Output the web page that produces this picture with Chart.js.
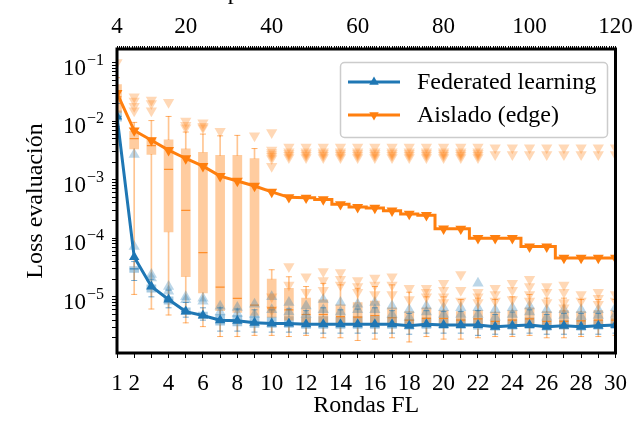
<!DOCTYPE html>
<html>
<head>
<meta charset="utf-8">
<script src="https://cdn.jsdelivr.net/npm/chart.js@4.4.1/dist/chart.umd.min.js"></script>
<style>
    html, body { margin: 0; padding: 0; background: #fff; }
    #wrap { width: 639px; height: 430px; }
</style>
</head>
<body>
<div id="wrap"><canvas id="lossChart" width="639" height="430"></canvas></div>
<script>
// rounds on the bottom axis, epochs on the top one (4 epochs per round)
const rounds = [1, 2, 3, 4, 5, 6, 7, 8, 9, 10, 11, 12, 13, 14, 15, 16, 17, 18, 19, 20, 21, 22, 23, 24, 25, 26, 27, 28, 29, 30]
const roundLabels = [1, 2, 4, 6, 8, 10, 12, 14, 16, 18, 20, 22, 24, 26, 28, 30]
const epochLabels = [4, 20, 40, 60, 80, 100, 120]
const yDecades = [1e-5, 1e-4, 1e-3, 1e-2, 1e-1]

// main curves
const flLoss = [1.2e-2, 4.8e-5, 1.5e-5, 9.0e-6, 5.6e-6, 4.8e-6, 4.0e-6, 3.9e-6, 3.6e-6, 3.5e-6,
    3.5e-6, 3.4e-6, 3.4e-6, 3.4e-6, 3.4e-6, 3.4e-6, 3.4e-6, 3.2e-6, 3.4e-6, 3.3e-6,
    3.3e-6, 3.3e-6, 3.1e-6, 3.2e-6, 3.3e-6, 3.1e-6, 3.2e-6, 3.1e-6, 3.2e-6, 3.3e-6]
const edgeLoss = [3.0e-2, 6.9e-3, 4.7e-3, 3.2e-3, 2.3e-3, 1.7e-3, 1.15e-3, 9.5e-4, 7.8e-4, 6.2e-4,
    5.0e-4, 4.9e-4, 4.6e-4, 3.8e-4, 3.4e-4, 3.3e-4, 2.95e-4, 2.6e-4, 2.47e-4, 1.46e-4,
    1.45e-4, 1.0e-4, 1.0e-4, 1.0e-4, 7.2e-5, 7.2e-5, 4.6e-5, 4.6e-5, 4.6e-5, 4.6e-5]

// edge boxplots (per round)
const edgeLo = [1.1e-2, 1.1e-5, 6.2e-6, 4.9e-6, 3.6e-6, 3.1e-6, 2.1e-6, 2.1e-6, 2.2e-6, 2.2e-6,
    2.1e-6, 2.2e-6, 2.0e-6, 2.0e-6, 1.8e-6, 1.9e-6, 2.0e-6, 1.7e-6, 2.1e-6, 1.9e-6,
    1.9e-6, 2.0e-6, 2.1e-6, 2.1e-6, 2.2e-6, 2.0e-6, 2.0e-6, 2.1e-6, 2.1e-6, 2.2e-6]
const edgeQ1 = [1.4e-2, 3.35e-3, 2.7e-3, 1.28e-4, 2.2e-5, 1.17e-5, 5.8e-6, 5.4e-6, 4.8e-6, 4.5e-6,
    4.0e-6, 3.5e-6, 3.4e-6, 3.3e-6, 3.3e-6, 3.3e-6, 3.2e-6, 3.0e-6, 3.1e-6, 3.2e-6,
    3.1e-6, 3.1e-6, 2.9e-6, 3.0e-6, 3.0e-6, 2.9e-6, 2.9e-6, 2.9e-6, 3.0e-6, 3.0e-6]
const edgeMed = [2.6e-2, 5.0e-3, 3.8e-3, 1.5e-3, 3.0e-4, 5.7e-5, 1.46e-5, 9.4e-6, 7.2e-6, 6.5e-6,
    6.0e-6, 5.0e-6, 5.0e-6, 4.6e-6, 4.5e-6, 4.8e-6, 4.4e-6, 4.0e-6, 4.3e-6, 4.3e-6,
    4.0e-6, 4.2e-6, 3.8e-6, 4.0e-6, 4.2e-6, 3.8e-6, 3.8e-6, 3.9e-6, 4.0e-6, 4.0e-6]
const edgeQ3 = [4.2e-2, 6.7e-3, 5.2e-3, 4.8e-3, 3.35e-3, 2.94e-3, 2.6e-3, 2.6e-3, 2.3e-3, 2.0e-5,
    1.4e-5, 9.5e-6, 8.9e-6, 7.3e-6, 8.0e-6, 8.5e-6, 6.5e-6, 5.6e-6, 6.5e-6, 5.8e-6,
    5.6e-6, 5.8e-6, 5.5e-6, 5.8e-6, 6.5e-6, 5.6e-6, 5.8e-6, 5.6e-6, 5.8e-6, 5.8e-6]
const edgeHi = [5.5e-2, 9.5e-3, 1.02e-2, 1.2e-2, 6.5e-3, 6.0e-3, 5.6e-3, 5.7e-3, 3.4e-3, 2.9e-5,
    2.2e-5, 1.5e-5, 1.7e-5, 1.6e-5, 1.4e-5, 1.5e-5, 1.6e-5, 1.2e-5, 1.0e-5, 1.0e-5,
    9.0e-6, 9.5e-6, 9.0e-6, 1.0e-5, 1.1e-5, 9.5e-6, 9.5e-6, 9.0e-6, 9.0e-6, 9.0e-6]

// federated boxplots (per round)
const flLo = [8.0e-3, 1.9e-5, 1.0e-5, 6.5e-6, 4.5e-6, 4.0e-6, 2.6e-6, 2.6e-6, 2.5e-6, 2.5e-6,
    2.5e-6, 2.4e-6, 2.4e-6, 2.4e-6, 2.4e-6, 2.4e-6, 2.4e-6, 2.3e-6, 2.4e-6, 2.4e-6,
    2.4e-6, 2.2e-6, 2.3e-6, 2.3e-6, 2.4e-6, 2.3e-6, 2.3e-6, 2.3e-6, 2.3e-6, 2.4e-6]
const flQ1 = [1.0e-2, 2.6e-5, 1.2e-5, 7.5e-6, 5.0e-6, 4.3e-6, 3.3e-6, 3.2e-6, 3.0e-6, 3.0e-6,
    3.0e-6, 2.9e-6, 2.9e-6, 2.9e-6, 2.9e-6, 2.9e-6, 2.9e-6, 2.8e-6, 2.9e-6, 2.9e-6,
    2.9e-6, 2.8e-6, 2.7e-6, 2.8e-6, 2.9e-6, 2.7e-6, 2.8e-6, 2.7e-6, 2.8e-6, 2.9e-6]
const flMed = [1.2e-2, 3.0e-5, 1.4e-5, 8.8e-6, 5.6e-6, 4.8e-6, 3.9e-6, 3.8e-6, 3.6e-6, 3.5e-6,
    3.5e-6, 3.4e-6, 3.4e-6, 3.4e-6, 3.4e-6, 3.4e-6, 3.4e-6, 3.2e-6, 3.4e-6, 3.3e-6,
    3.3e-6, 3.3e-6, 3.1e-6, 3.2e-6, 3.3e-6, 3.1e-6, 3.2e-6, 3.1e-6, 3.2e-6, 3.3e-6]
const flQ3 = [1.5e-2, 3.3e-5, 1.6e-5, 1.0e-5, 6.5e-6, 5.5e-6, 5.0e-6, 4.8e-6, 4.6e-6, 4.5e-6,
    4.6e-6, 4.4e-6, 4.6e-6, 4.5e-6, 4.6e-6, 4.7e-6, 4.4e-6, 4.0e-6, 4.4e-6, 4.2e-6,
    4.2e-6, 4.3e-6, 3.9e-6, 4.1e-6, 4.4e-6, 3.9e-6, 4.0e-6, 4.0e-6, 4.0e-6, 4.3e-6]
const flHi = [2.0e-2, 4.0e-5, 2.0e-5, 1.3e-5, 8.0e-6, 6.5e-6, 6.5e-6, 6.2e-6, 6.0e-6, 6.0e-6,
    6.2e-6, 5.8e-6, 6.5e-6, 6.0e-6, 6.2e-6, 6.5e-6, 5.8e-6, 5.2e-6, 5.8e-6, 5.6e-6,
    5.6e-6, 5.8e-6, 5.0e-6, 5.5e-6, 6.0e-6, 5.0e-6, 5.2e-6, 5.2e-6, 5.2e-6, 5.6e-6]

// single clients, faded markers (one list per round)
const edgeClients = [
    [1.0e-1], [2.6e-2, 2.2e-2, 1.8e-2, 1.5e-2], [2.3e-2, 2.0e-2, 1.5e-2], [2.1e-2],
    [1.0e-2, 8.5e-3, 7.7e-3], [9.4e-3, 8.2e-3, 7.7e-3], [6.7e-3], [], [5.6e-3],
    [6.4e-3, 3.2e-3, 2.9e-3, 2.7e-3, 2.5e-3, 2.3e-3, 1.7e-3, 1.0e-5, 6.0e-6],
    [3.6e-3, 3.0e-3, 2.8e-3, 2.6e-3, 2.4e-3, 3.3e-5, 1.6e-5],
    [3.6e-3, 3.0e-3, 2.8e-3, 2.6e-3, 2.4e-3, 2.2e-5, 1.2e-5],
    [3.6e-3, 3.0e-3, 2.8e-3, 2.6e-3, 2.4e-3, 2.7e-5, 1.9e-5, 1.3e-5],
    [3.6e-3, 3.0e-3, 2.8e-3, 2.6e-3, 2.4e-3, 2.6e-5, 2.0e-5, 1.6e-5],
    [3.6e-3, 3.0e-3, 2.8e-3, 2.6e-3, 2.4e-3, 1.9e-5, 1.5e-5, 1.2e-5],
    [3.6e-3, 3.0e-3, 2.8e-3, 2.6e-3, 2.4e-3, 2.1e-5, 1.6e-5, 1.1e-5],
    [3.6e-3, 3.0e-3, 2.8e-3, 2.6e-3, 2.4e-3, 2.2e-5, 1.6e-5, 1.1e-5],
    [3.6e-3, 3.0e-3, 2.8e-3, 2.6e-3, 2.4e-3, 1.4e-5, 9.0e-6],
    [3.6e-3, 3.0e-3, 2.8e-3, 2.6e-3, 2.4e-3, 1.4e-5, 1.2e-5, 1.0e-5],
    [3.6e-3, 3.0e-3, 2.8e-3, 2.6e-3, 2.4e-3, 1.7e-5, 1.3e-5, 1.0e-5, 8.0e-6],
    [3.6e-3, 3.0e-3, 2.8e-3, 2.6e-3, 2.4e-3, 2.4e-5, 1.3e-5, 8.5e-6],
    [3.6e-3, 3.0e-3, 2.8e-3, 2.6e-3, 2.4e-3, 1.2e-5, 1.0e-5, 8.0e-6],
    [3.5e-3, 2.7e-3, 1.4e-5, 1.1e-5, 8.5e-6],
    [3.5e-3, 2.7e-3, 1.7e-5, 1.3e-5, 9.0e-6],
    [3.5e-3, 2.7e-3, 2.0e-5, 1.5e-5, 1.1e-5, 8.5e-6],
    [3.5e-3, 2.7e-3, 1.5e-5, 1.2e-5, 8.0e-6],
    [3.5e-3, 2.7e-3, 1.6e-5, 1.2e-5, 8.0e-6, 6.5e-6],
    [3.5e-3, 2.7e-3, 1.1e-5, 8.5e-6],
    [3.5e-3, 2.7e-3, 1.2e-5, 9.5e-6, 7.5e-6],
    [3.5e-3, 2.7e-3, 1.1e-5, 8.5e-6]
]
const flClients = [
    [], [2.7e-3, 7.2e-5], [2.4e-5, 2.1e-5], [1.5e-5, 1.25e-5], [1.0e-5, 8.9e-6],
    [9.5e-6, 8.4e-6], [6.9e-6, 5.5e-6], [6.6e-6, 5.2e-6], [7.5e-6, 5.0e-6], [1.0e-5, 6.0e-6],
    [8.0e-6, 5.5e-6], [7.0e-6, 5.0e-6], [9.0e-6, 6.0e-6], [8.0e-6, 5.5e-6], [7.5e-6, 6.0e-6],
    [8.0e-6, 6.0e-6], [7.0e-6, 5.0e-6], [6.0e-6, 4.5e-6], [7.0e-6, 5.5e-6], [6.5e-6, 5.0e-6],
    [6.5e-6, 5.0e-6], [1.7e-5, 6.5e-6, 5.0e-6], [6.0e-6, 4.5e-6], [6.5e-6, 5.0e-6], [7.0e-6, 5.5e-6],
    [6.0e-6, 4.5e-6], [6.0e-6, 4.8e-6], [6.0e-6, 4.6e-6], [6.0e-6, 4.8e-6], [6.5e-6, 5.0e-6]
]

const BLUE = '#1f77b4'
const ORANGE = '#ff7f0e'
const FONT = 'Liberation Serif'
const Y_MIN = 1.1e-6
const Y_MAX = 0.17

const pts = (vals) => rounds.map((r, i) => ({ x: r, y: vals[i] }))
const span = (a, b) => rounds.map((r, i) => ({ x: r, y: [a[i], b[i]] }))
const cloud = (lists) => lists.flatMap((l, i) => l.map(v => ({ x: rounds[i], y: v })))

// log ticks: majors + minors inside the range
const yTickValues = []
for (let e = -6; e <= -1; e++) {
    for (let m = 1; m <= 9; m++) {
        const v = m * Math.pow(10, e)
        if (v >= Y_MIN && v <= Y_MAX) yTickValues.push(v)
    }
}
const topTickValues = []
for (let t = 4; t <= 120; t += 0.5) topTickValues.push(t)

// boxplot pieces as floating bars and short line markers
const bars = (data, color, thick, order) => ({
    type: 'bar', data: data, backgroundColor: color, borderWidth: 0,
    barThickness: thick, grouped: false, order: order
})
const ticksAt = (data, color, radius, width, order) => ({
    type: 'line', data: data, showLine: false, pointStyle: 'line',
    pointRadius: radius, pointBorderColor: color, pointBorderWidth: width, order: order
})
const faded = (data, color, rot, order) => ({
    type: 'line', data: data, showLine: false, pointStyle: 'triangle', rotation: rot,
    pointRadius: 6.5, pointBackgroundColor: color, pointBorderColor: color, pointBorderWidth: 0, order: order
})

const edgePts = pts(edgeLoss)

// frame around the plot area
const framePlugin = {
    id: 'frame',
    afterDatasetsDraw(chart) {
        const { ctx, chartArea: a } = chart
        ctx.save()
        ctx.strokeStyle = '#000'
        ctx.lineWidth = 3
        ctx.strokeRect(a.left, a.top, a.right - a.left, a.bottom - a.top)
        ctx.restore()
    }
}

// 10 with a raised exponent for the log axis
const powerLabels = {
    id: 'powerLabels',
    afterDraw(chart) {
        const { ctx, scales } = chart
        ctx.save()
        ctx.fillStyle = '#000'
        ctx.textBaseline = 'alphabetic'
        yDecades.forEach(d => {
            const y = scales.y.getPixelForValue(d)
            const exp = '\u2212' + String(-Math.round(Math.log10(d)))
            ctx.font = '16px "' + FONT + '"'
            const ew = ctx.measureText(exp).width
            ctx.textAlign = 'left'
            ctx.fillText(exp, 104 - ew, y + 2)
            ctx.font = '23px "' + FONT + '"'
            ctx.textAlign = 'right'
            ctx.fillText('10', 103 - ew, y + 12)
        })
        ctx.restore()
    }
}

// legend with line + marker samples, and the clipped top axis title
const legendPlugin = {
    id: 'sampleLegend',
    afterDraw(chart) {
        const ctx = chart.ctx
        ctx.save()
        const x0 = 340.5, y0 = 62.5, w = 267, h = 75, r = 4
        ctx.beginPath()
        ctx.moveTo(x0 + r, y0)
        ctx.arcTo(x0 + w, y0, x0 + w, y0 + h, r)
        ctx.arcTo(x0 + w, y0 + h, x0, y0 + h, r)
        ctx.arcTo(x0, y0 + h, x0, y0, r)
        ctx.arcTo(x0, y0, x0 + w, y0, r)
        ctx.closePath()
        ctx.fillStyle = 'rgba(255,255,255,0.85)'
        ctx.fill()
        ctx.strokeStyle = '#cccccc'
        ctx.lineWidth = 1.5
        ctx.stroke()

        const rows = [
            { text: 'Federated learning', color: BLUE, rot: 0, y: 82 },
            { text: 'Aislado (edge)', color: ORANGE, rot: 180, y: 115 }
        ]
        rows.forEach(row => {
            ctx.strokeStyle = row.color
            ctx.lineWidth = 3
            ctx.beginPath()
            ctx.moveTo(348, row.y)
            ctx.lineTo(400, row.y)
            ctx.stroke()
            ctx.fillStyle = row.color
            Chart.helpers.drawPoint(ctx, { pointStyle: 'triangle', rotation: row.rot, radius: 5.5, borderWidth: 0 }, 374, row.y)
            ctx.fillStyle = '#000'
            ctx.font = '24px "' + FONT + '"'
            ctx.textAlign = 'left'
            ctx.textBaseline = 'middle'
            ctx.fillText(row.text, 417, row.y + 1)
        })

        ctx.font = '24px "' + FONT + '"'
        ctx.textAlign = 'left'
        ctx.textBaseline = 'alphabetic'
        ctx.fillText('Épocas', 213, -1)
        ctx.restore()
    }
}

const ctx = document.getElementById('lossChart').getContext('2d')
const lossChart = new Chart(ctx, {
    type: 'line',
    data: {
        datasets: [
            // main markers and lines
            {
                type: 'line', data: edgePts, showLine: false, pointStyle: 'triangle', rotation: 180,
                pointRadius: 6.3, pointBackgroundColor: ORANGE, pointBorderWidth: 0, order: 0
            },
            {
                type: 'line', data: edgePts.slice(0, 12), borderColor: ORANGE, borderWidth: 3,
                pointRadius: 0, tension: 0, order: 1
            },
            {
                type: 'line', data: edgePts.slice(11), borderColor: ORANGE, borderWidth: 3,
                pointRadius: 0, stepped: 'middle', order: 1
            },
            {
                type: 'line', data: pts(flLoss), borderColor: BLUE, borderWidth: 3, tension: 0,
                pointStyle: 'triangle', pointRadius: 6, pointBackgroundColor: BLUE, pointBorderWidth: 0, order: 2
            },
            // single clients
            faded(cloud(edgeClients), 'rgba(255,127,14,0.3)', 180, 3),
            faded(cloud(flClients), 'rgba(31,119,180,0.3)', 0, 4),
            // medians and whisker caps
            ticksAt(pts(edgeMed), 'rgba(255,127,14,0.8)', 4.5, 1.2, 5),
            ticksAt(pts(flMed), 'rgba(31,119,180,0.8)', 4.5, 1.2, 5),
            ticksAt(pts(edgeLo).concat(pts(edgeHi)), 'rgba(255,127,14,0.6)', 3, 1, 6),
            ticksAt(pts(flLo).concat(pts(flHi)), 'rgba(31,119,180,0.6)', 3, 1, 6),
            // boxes and whiskers
            bars(span(edgeQ1, edgeQ3), 'rgba(255,127,14,0.4)', 9, 7),
            bars(span(flQ1, flQ3), 'rgba(31,119,180,0.4)', 9, 8),
            bars(span(edgeLo, edgeQ1), 'rgba(255,127,14,0.45)', 1, 9),
            bars(span(edgeQ3, edgeHi), 'rgba(255,127,14,0.45)', 1, 9),
            bars(span(flLo, flQ1), 'rgba(31,119,180,0.45)', 1, 9),
            bars(span(flQ3, flHi), 'rgba(31,119,180,0.45)', 1, 9)
        ]
    },
    options: {
        responsive: false,
        animation: false,
        devicePixelRatio: 1,
        layout: { padding: { left: 0, right: 19, top: 0, bottom: 0 } },
        plugins: { legend: { display: false }, tooltip: { enabled: false } },
        scales: {
            x: {
                type: 'linear', position: 'bottom', min: 1, max: 30, offset: false,
                grid: { drawOnChartArea: false, drawTicks: true, tickLength: 5, color: '#000', offset: false },
                border: { display: false },
                ticks: {
                    autoSkip: false, maxRotation: 0, padding: 12, color: '#000',
                    font: { family: FONT, size: 23 },
                    callback: (v) => roundLabels.includes(v) ? String(v) : ''
                },
                afterBuildTicks: (s) => { s.ticks = rounds.map(v => ({ value: v })) },
                afterFit: (s) => { s.height = 77 },
                title: {
                    display: true, text: 'Rondas FL', color: '#000',
                    font: { family: FONT, size: 24 }, padding: { top: 0, bottom: 10 }
                }
            },
            xTop: {
                type: 'linear', position: 'top', min: 4, max: 120, offset: false,
                grid: { drawOnChartArea: false, drawTicks: true, tickLength: 3, color: '#000', offset: false },
                border: { display: false },
                ticks: {
                    autoSkip: false, maxRotation: 0, padding: 5, color: '#000',
                    font: { family: FONT, size: 23 },
                    callback: (v) => epochLabels.includes(v) ? String(v) : ''
                },
                afterBuildTicks: (s) => { s.ticks = topTickValues.map(v => ({ value: v })) },
                afterFit: (s) => { s.height = 49 }
            },
            y: {
                type: 'logarithmic', position: 'left', min: Y_MIN, max: Y_MAX,
                grid: { drawOnChartArea: false, drawTicks: true, tickLength: 5, color: '#000' },
                border: { display: false },
                ticks: { autoSkip: false, padding: 8, callback: () => '' },
                afterBuildTicks: (s) => { s.ticks = yTickValues.map(v => ({ value: v })) },
                afterFit: (s) => { s.width = 117 },
                title: {
                    display: true, text: 'Loss evaluación', color: '#000',
                    font: { family: FONT, size: 24 }, padding: { top: 21, bottom: 0 }
                }
            }
        }
    },
    plugins: [framePlugin, powerLabels, legendPlugin]
})
</script>
</body>
</html>
